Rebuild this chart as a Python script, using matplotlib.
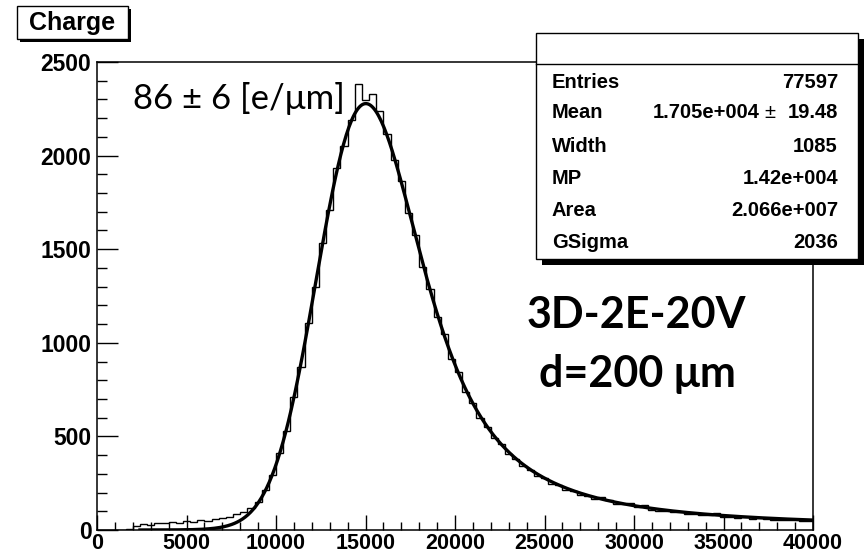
import numpy as np
import matplotlib
matplotlib.use("Agg")
import matplotlib.pyplot as plt
from matplotlib.patches import Rectangle

# histogram: 100 bins of 400 from 0 to 40000
bin_edges = np.arange(0, 40001, 400)
counts = [0, 0, 0, 0, 8, 22, 31, 26, 40, 36,
          44, 38, 47, 43, 52, 49, 57, 63, 72, 84,
          98, 117, 152, 212, 296, 410, 531, 712, 870, 1105,
          1296, 1534, 1712, 1935, 2052, 2190, 2385, 2296, 2330, 2240,
          2118, 1975, 1866, 1695, 1578, 1405, 1290, 1140, 1046, 915,
          842, 738, 680, 598, 552, 489, 458, 405, 381, 340,
          323, 288, 278, 247, 240, 214, 210, 187, 184, 166,
          176, 158, 140, 137, 146, 121, 132, 108, 103, 101,
          94, 95, 86, 85, 79, 80, 92, 71, 70, 66,
          67, 60, 62, 57, 55, 56, 51, 52, 48, 47]

# fit parameters (stat box)
stat_names = ["Entries", "Mean", "Width", "MP", "Area", "GSigma"]
stat_values = ["77597", "1.705e+004", "1085", "1.42e+004", "2.066e+007", "2036"]
mean_err = "19.48"
width, mp, area, gsigma = 1085.0, 1.42e4, 2.066e7, 2036.0
fit_range = (2400, 40000)

xticks = [0, 5000, 10000, 15000, 20000, 25000, 30000, 35000, 40000]
yticks = [0, 500, 1000, 1500, 2000, 2500]


def landau(lam):
    t = np.linspace(1e-9, 30, 8000)
    dt = t[1] - t[0]
    damp = np.exp(-np.pi * t / 2)
    tlogt = t * np.log(t)
    return np.array([np.sum(damp * np.cos(t * l + tlogt)) * dt / np.pi for l in lam])


def langaus(x):
    mpc = mp + 0.22278298 * width
    xs = np.linspace(mpc - 6 * width, 60000, 3000)
    dx = xs[1] - xs[0]
    lan = landau((xs - mpc) / width) / width
    out = []
    for xx in x:
        g = np.exp(-0.5 * ((xx - xs) / gsigma) ** 2) / (np.sqrt(2 * np.pi) * gsigma)
        out.append(area * np.sum(lan * g) * dx)
    return np.array(out)


W, H = 866, 557
fig = plt.figure(figsize=(W / 100, H / 100), dpi=100)


def fx(px):
    return px / W


def fy(py):
    return 1 - py / H


ax = fig.add_axes([fx(97), fy(530), fx(813) - fx(97), fy(62) - fy(530)])
ax.stairs(counts, bin_edges, color="black", lw=1.0)
xf = np.linspace(fit_range[0], fit_range[1], 500)
ax.plot(xf, langaus(xf), color="black", lw=2.4)

ax.set_xlim(0, 40000)
ax.set_ylim(0, 2500)
ax.set_xticks(xticks)
ax.set_yticks(yticks)
ax.set_xticks(np.arange(0, 40001, 1000), minor=True)
ax.set_yticks(np.arange(0, 2501, 100), minor=True)
ax.set_xticklabels([str(v) for v in xticks])
ax.set_yticklabels([str(v) for v in yticks])
ax.tick_params(axis="x", which="major", direction="in", length=11, width=1, pad=2.5)
ax.tick_params(axis="x", which="minor", direction="in", length=5.5, width=1)
ax.tick_params(axis="y", which="major", direction="in", length=15, width=1, pad=4)
ax.tick_params(axis="y", which="minor", direction="in", length=7.5, width=1)
for lab in ax.get_xticklabels():
    lab.set_fontfamily("Liberation Sans")
    lab.set_fontweight("bold")
    lab.set_fontsize(15.5)
for lab in ax.get_yticklabels():
    lab.set_fontfamily("Liberation Sans")
    lab.set_fontweight("bold")
    lab.set_fontsize(16.5)
for s in ax.spines.values():
    s.set_linewidth(1.1)

# title box
fig.add_artist(Rectangle((fx(20), fy(42)), fx(111), fy(6) - fy(39), transform=fig.transFigure,
                         facecolor="black", edgecolor="black", lw=0))
fig.add_artist(Rectangle((fx(17), fy(39)), fx(111), fy(6) - fy(39), transform=fig.transFigure,
                         facecolor="white", edgecolor="black", lw=1))
fig.text(fx(72.5), fy(23), "Charge", family="Liberation Sans", weight="bold", fontsize=18,
         ha="center", va="center")

# stat box
bx0, by0, bx1, by1 = 536, 33, 858, 259
fig.add_artist(Rectangle((fx(bx0 + 6), fy(by1 + 6)), fx(bx1 - bx0), fy(by0) - fy(by1),
                         transform=fig.transFigure, facecolor="black", lw=0))
fig.add_artist(Rectangle((fx(bx0), fy(by1)), fx(bx1 - bx0), fy(by0) - fy(by1),
                         transform=fig.transFigure, facecolor="white", edgecolor="black", lw=1))
fig.add_artist(plt.Line2D([fx(bx0), fx(bx1)], [fy(64), fy(64)], transform=fig.transFigure,
                          color="black", lw=1))
row_y = [82, 113, 146, 179, 211, 242]
for name, val, yy in zip(stat_names, stat_values, row_y):
    fig.text(fx(552), fy(yy), name, family="Liberation Sans", weight="bold", fontsize=14.5,
             ha="left", va="center")
    if name == "Mean":
        fig.text(fx(760), fy(yy), val, family="Liberation Sans", weight="bold", fontsize=14.5,
                 ha="right", va="center")
        fig.text(fx(770), fy(yy), "\u00b1", family="Liberation Sans", fontsize=14.5,
                 ha="center", va="center")
        fig.text(fx(838), fy(yy), mean_err, family="Liberation Sans", weight="bold",
                 fontsize=14.5, ha="right", va="center")
    else:
        fig.text(fx(838), fy(yy), val, family="Liberation Sans", weight="bold", fontsize=14.5,
                 ha="right", va="center")

# annotations
fig.text(fx(133), fy(109), "86 \u00b1 6 [e/\u03bcm]", family="Lato", fontsize=25,
         ha="left", va="baseline")
fig.text(fx(636), fy(328), "3D-2E-20V", family="Lato", weight="bold", fontsize=31,
         ha="center", va="baseline")
fig.text(fx(637), fy(387), "d=200 \u03bcm", family="Lato", weight="bold", fontsize=31,
         ha="center", va="baseline")

fig.savefig("out.png", dpi=100)
